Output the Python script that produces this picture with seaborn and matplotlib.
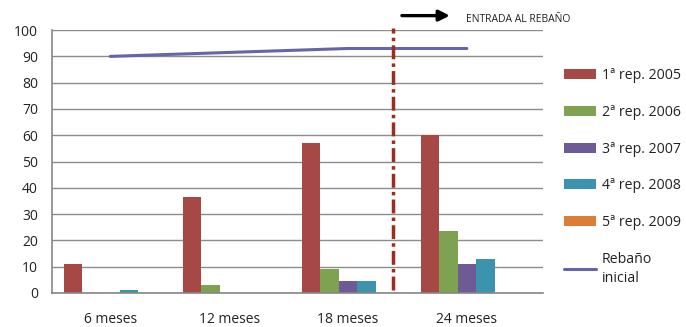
import numpy as np
import pandas as pd
import matplotlib
matplotlib.use('Agg')
import matplotlib.pyplot as plt
import seaborn as sns
from matplotlib.patches import Patch
from matplotlib.lines import Line2D

categorias = ['6 meses', '12 meses', '18 meses', '24 meses']
series = ['1ª rep. 2005', '2ª rep. 2006', '3ª rep. 2007', '4ª rep. 2008', '5ª rep. 2009']
rep_2005 = [11, 36.5, 57, 60]
rep_2006 = [0, 3, 9, 23.5]
rep_2007 = [0, 0, 4.5, 11]
rep_2008 = [1.2, 0, 4.5, 13]
rep_2009 = [0, 0, 0, 0]
rebano_inicial = [90, 91.5, 93, 93]

colores = ['#A54846', '#7EA152', '#6E5B96', '#3C93AE', '#DA7E38']
color_linea = '#6466A8'

sns.set_style('white')
plt.rcParams['font.family'] = ['Open Sans', 'DejaVu Sans']

df = pd.DataFrame({
    'mes': categorias * 5,
    'valor': rep_2005 + rep_2006 + rep_2007 + rep_2008 + rep_2009,
    'serie': [s for s in series for _ in categorias],
})

fig = plt.figure(figsize=(6.86, 3.27), dpi=100)
ax = fig.add_axes([0.0758, 0.104, 0.7157, 0.804])

sns.barplot(data=df, x='mes', y='valor', hue='serie', hue_order=series,
            palette=colores, width=0.78, linewidth=0, saturation=1,
            legend=False, ax=ax)
sns.lineplot(x=np.arange(len(categorias)), y=rebano_inicial, color=color_linea,
             linewidth=2.2, ax=ax)

ax.set_ylim(0, 100)
ax.set_xlim(-0.49, 3.64)
ax.set_yticks(range(0, 101, 10))
ax.yaxis.grid(True, color='#8c8c8c', linewidth=1)
ax.set_axisbelow(True)
ax.set_xlabel('')
ax.set_ylabel('')
for s in ['top', 'right']:
    ax.spines[s].set_visible(False)
for s in ['left', 'bottom']:
    ax.spines[s].set_color('#868686')
    ax.spines[s].set_linewidth(1.2)
ax.tick_params(axis='y', length=0, pad=10, labelsize=10, labelcolor='#222222')
ax.tick_params(axis='x', length=0, pad=14, labelsize=10, labelcolor='#222222')

# linea de entrada al rebaño
ax.plot([2.38, 2.38], [1, 100.8], color='#9B2D20', linewidth=2.5,
        linestyle=(0, (4, 1.2, 1, 1.2)), clip_on=False, zorder=5)
ax.annotate('', xy=(2.88, 105.5), xytext=(2.43, 105.5),
            arrowprops=dict(arrowstyle='-|>', color='black', lw=2.4,
                            mutation_scale=16),
            annotation_clip=False)
ax.text(2.99, 104.2, 'ENTRADA AL REBAÑO', fontsize=7.5, va='center',
        ha='left', color='#222222', clip_on=False)

handles = [Patch(facecolor=c, edgecolor='none') for c in colores]
handles.append(Line2D([0], [0], color=color_linea, linewidth=2.2))
labels = series + ['Rebaño\ninicial']
leg = fig.legend(handles, labels, loc='upper left', bbox_to_anchor=(0.803, 0.83),
                 frameon=False, fontsize=10.2, handlelength=2.3, handleheight=0.7,
                 labelspacing=1.53, handletextpad=0.4)
for t in leg.get_texts():
    t.set_linespacing(1.4)
    t.set_color('#222222')

fig.savefig('out.png', dpi=100)
